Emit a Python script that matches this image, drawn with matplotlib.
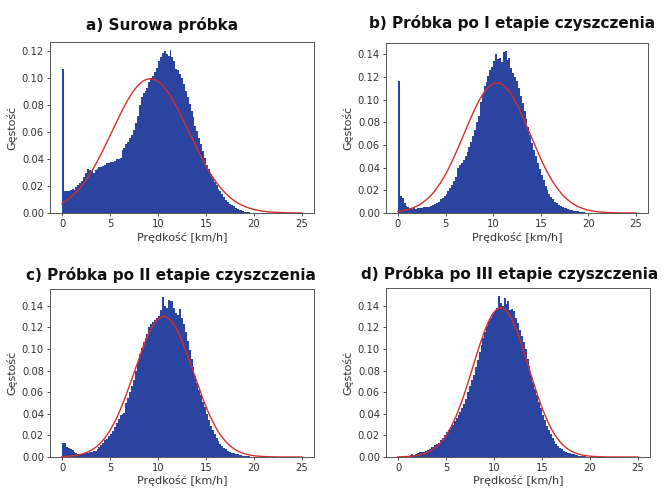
import numpy as np
import matplotlib
matplotlib.use("Agg")
import matplotlib.pyplot as plt

# bins 0.2 km/h wide, 0..20 km/h; heights are density x 1000
bin_edges = np.round(np.arange(0, 20.01, 0.2), 2)

dens_a = np.array([
    107, 16, 16, 16, 17, 18, 17, 19, 21, 22,
    24, 27, 30, 33, 32, 31, 30, 32, 33, 34,
    34, 35, 36, 37, 37, 38, 38, 39, 40, 40,
    41, 47, 48, 51, 53, 56, 58, 62, 67, 72,
    80, 86, 89, 91, 93, 97, 100, 102, 105, 108,
    113, 116, 119, 120, 118, 117, 121, 116, 113, 107,
    106, 103, 100, 96, 91, 86, 81, 76, 71, 65,
    61, 56, 51, 46, 41, 36, 33, 29, 26, 23,
    21, 18, 16, 14, 12, 10, 8, 7, 6, 5,
    4, 3, 2.5, 2, 1.5, 1, 0.7, 0.5, 0.3, 0.2]) / 1000

dens_b = np.array([
    117, 15, 13, 9, 6, 5, 4, 4, 4, 3.5,
    4, 4, 4.5, 5, 5, 5, 5.5, 6, 7, 8,
    9, 10, 12, 13, 15, 17, 19, 22, 25, 28,
    32, 40, 42, 44, 47, 50, 54, 58, 63, 68,
    73, 80, 86, 98, 105, 112, 116, 121, 126, 129,
    134, 140, 136, 137, 133, 142, 143, 135, 137, 128,
    124, 120, 117, 110, 103, 97, 90, 83, 76, 69,
    62, 56, 50, 44, 39, 34, 29, 24, 20, 17,
    14, 12, 10, 8.5, 7, 6, 5, 4.5, 4, 3.5,
    3, 2.5, 2, 1.8, 1.5, 1, 0.8, 0.5, 0.3, 0.2]) / 1000

dens_c = np.array([
    13, 13, 9, 8, 7, 6.5, 5, 4, 3, 2.8,
    3, 3, 3.5, 4, 4.5, 5, 5.5, 6, 7, 9,
    11, 13, 16, 17, 19, 21, 24, 28, 31, 35,
    39, 40, 41, 50, 55, 60, 66, 71, 80, 88,
    95, 101, 106, 110, 114, 120, 123, 125, 127, 129,
    130, 136, 148, 140, 138, 145, 144, 144, 138, 133,
    131, 137, 129, 123, 116, 107, 99, 91, 83, 75,
    68, 62, 57, 51, 46, 40, 34, 29, 25, 21,
    18, 15, 12, 10, 8.5, 7, 6, 5, 4, 3.5,
    3, 2.5, 2, 1.5, 1.2, 1, 0.7, 0.5, 0.3, 0.2]) / 1000

dens_d = np.array([
    0, 0.2, 0.3, 0.5, 0.8, 1.2, 1.8, 2.5, 2.2, 3,
    3.5, 5, 5, 4.8, 5.5, 6.5, 7, 9, 9.5, 11,
    12, 13, 16, 18, 20, 23, 25, 28, 30, 33,
    36, 39, 42, 45, 49, 54, 60, 66, 71, 76,
    83, 90, 97, 104, 110, 116, 121, 126, 129, 132,
    135, 138, 149, 143, 140, 147, 142, 144, 136, 137,
    135, 129, 124, 118, 112, 106, 100, 91, 84, 76,
    69, 63, 57, 51, 45, 39, 34, 29, 25, 21,
    18, 15, 12, 10, 8.5, 7, 6, 5, 4, 3.5,
    3, 2.5, 2, 1.5, 1.2, 1, 0.8, 0.6, 0.4, 0.2]) / 1000

# fitted normal curves (mean, std)
fit_mu = [9.2, 10.4, 10.6, 10.7]
fit_sigma = [4.0, 3.47, 3.07, 2.89]

titles = [
    "a) Surowa próbka",
    "b) Próbka po I etapie czyszczenia",
    "c) Próbka po II etapie czyszczenia",
    "d) Próbka po III etapie czyszczenia",
]

BLUE = "#2a44a0"
RED = "#d62f2c"

fig = plt.figure(figsize=(6.66, 4.88), dpi=100)
W, H = 666, 488

# axes boxes in pixels: left, top, right, bottom
boxes = [(50, 42, 314, 213), (386, 43, 648, 213),
         (50, 289, 314, 457), (386, 288, 650, 457)]
title_pos = [(162, 25), (512, 23), (171, 275), (510, 274)]

all_dens = [dens_a, dens_b, dens_c, dens_d]
centers = bin_edges[:-1] + 0.1
xx = np.linspace(0, 25, 400)

for i in range(4):
    l, t, r, b = boxes[i]
    ax = fig.add_axes([l / W, 1 - b / H, (r - l) / W, (b - t) / H])
    ax.hist(centers, bins=bin_edges, weights=all_dens[i],
            histtype="stepfilled", color=BLUE, linewidth=0)
    mu, sd = fit_mu[i], fit_sigma[i]
    pdf = np.exp(-0.5 * ((xx - mu) / sd) ** 2) / (sd * np.sqrt(2 * np.pi))
    ax.plot(xx, pdf, color=RED, linewidth=1.0)

    ax.set_xticks([0, 5, 10, 15, 20, 25])
    ax.set_xlabel("Prędkość [km/h]", fontsize=8, color="#333333",
                  labelpad=2 if i < 2 else 1)
    ax.set_ylabel("Gęstość", fontsize=8, color="#333333", labelpad=3)
    ax.tick_params(labelsize=7.2, length=2.4, width=0.6, pad=2, colors="#333333")
    for sp in ax.spines.values():
        sp.set_linewidth(0.7)
        sp.set_color("#555555")

    tx, ty = title_pos[i]
    fig.text(tx / W, 1 - ty / H, titles[i], ha="center", va="center",
             fontsize=11, fontweight="bold", color="#111111")

fig.savefig("out.png", dpi=100)
